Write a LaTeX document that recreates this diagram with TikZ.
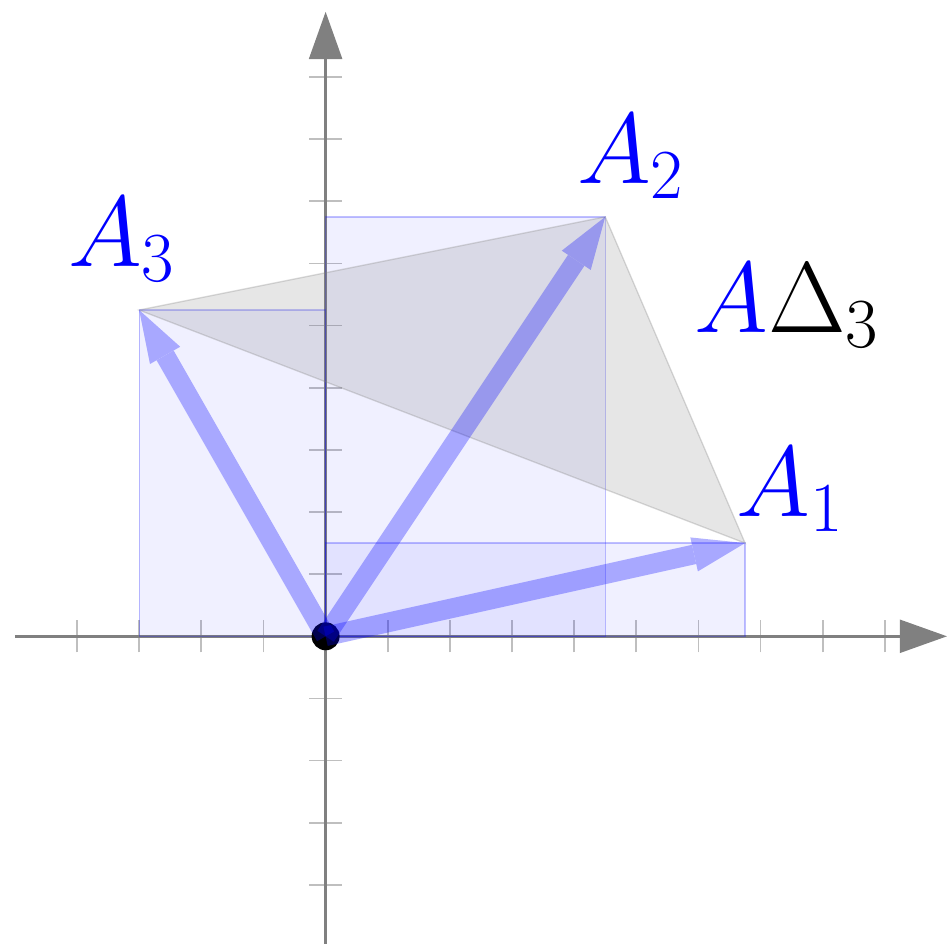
\RequirePackage{fix-cm}
\documentclass[tikz,border=0pt]{standalone}
\usetikzlibrary{arrows.meta}
\begin{document}
\begin{tikzpicture}[>=Triangle]
        % Styles
        \tikzstyle{axisline}=[draw=gray, line width=1.2pt, -{Triangle[length=7.6mm,width=5.3mm]}]
        \tikzstyle{tickmark}=[draw=gray, draw opacity=0.5, line width=0.8pt]
        \tikzstyle{rectbox}=[draw=blue, draw opacity=0.25, fill=blue, fill opacity=0.06, line width=0.6pt]
        \tikzstyle{trifill}=[draw=gray, draw opacity=0.3, fill=gray, fill opacity=0.2, line width=0.6pt]
        \tikzstyle{vecarrow}=[draw=blue, line width=9pt, -{Triangle[length=8.4mm,width=5.6mm,line width=0pt]}]
        \tikzstyle{vecgroup}=[transparency group, opacity=0.3]
        \tikzstyle{ptlabel}=[text=blue, inner sep=0pt, anchor=base west, font=\fontsize{46}{50}\selectfont]

        \useasboundingbox (-5.24,-4.95) rectangle (10,10.24);

        % Axes
        \foreach \i in {-4,...,-1,1,2,...,9} {
            \draw[tickmark] (\i,-0.26) -- (\i,0.26);
            \draw[tickmark] (-0.26,\i) -- (0.26,\i);
        }
        \draw[axisline] (-5,0) -- (10,0);
        \draw[axisline] (0,-5) -- (0,10.05);

        % Points
        \coordinate (o)  at (0,0);
        \coordinate (a1) at (6.75,1.5);
        \coordinate (a2) at (4.5,6.75);
        \coordinate (a3) at (-3,5.25);

        % Boxes and triangle
        \draw[rectbox] (o) rectangle (a1);
        \draw[rectbox] (o) rectangle (a2);
        \draw[rectbox] (o) rectangle (a3);
        \draw[trifill] (a1) -- (a2) -- (a3) -- cycle;

        % Vectors
        \node[circle, fill=black, minimum size=4.5mm, inner sep=0pt] (dot) at (o) {};
        \begin{scope}[vecgroup] \draw[vecarrow] (dot.center) -- (a1); \end{scope}
        \begin{scope}[vecgroup] \draw[vecarrow] (dot.center) -- (a2); \end{scope}
        \begin{scope}[vecgroup] \draw[vecarrow] (dot.center) -- (a3); \end{scope}

        % Labels
        \node[ptlabel] (l1) at (6.61,1.93) {$A_1$};
        \node[ptlabel] (l2) at (4.04,7.28) {$A_2$};
        \node[ptlabel] (l3) at (-4.15,5.95) {$A_3$};
        \node[ptlabel] (ld) at (5.93,4.89) {$A\textcolor{black}{\Delta_3}$};
    \end{tikzpicture}
\end{document}
